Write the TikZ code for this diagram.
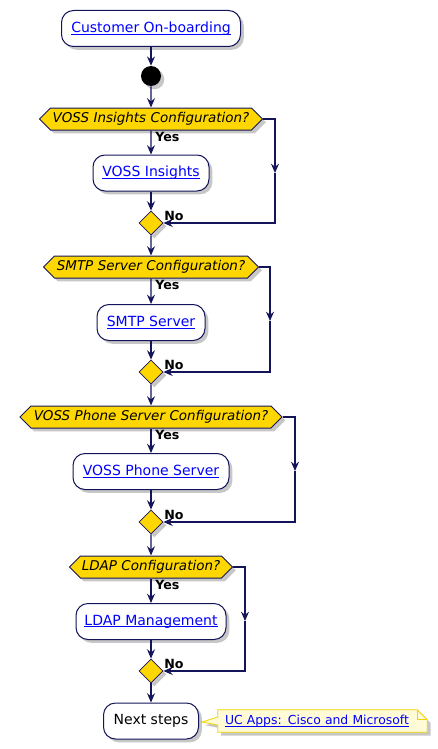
\documentclass[tikz,border=0pt]{standalone}
\usepackage{fontspec}
\setmainfont{DejaVu Sans}
\usetikzlibrary{shapes.geometric,shapes.symbols,shadows,arrows.meta,calc}
\definecolor{navy}{HTML}{14145A}
\definecolor{gold}{HTML}{FFD700}
\definecolor{linkblue}{HTML}{0000FF}
\definecolor{notefill}{HTML}{FEFBD6}
\definecolor{noteborder}{HTML}{F2D300}
\pgfdeclarelayer{bg}
\pgfsetlayers{bg,main}
\newcommand{\lnk}[1]{\textcolor{linkblue}{\setbox0\hbox{#1}\rlap{\rule[-1.5pt]{\wd0}{0.55pt}}\box0}}
\tikzset{
  shad/.style={drop shadow={shadow xshift=2.5pt,shadow yshift=-2.5pt,opacity=0.22,fill=black}},
  act/.style={draw=navy,line width=0.75pt,fill=white,rounded corners=9pt,minimum height=27pt,
    inner sep=0pt,font=\fontsize{10.5pt}{12pt}\selectfont,shad},
  dec/.style={signal,signal to=west and east,draw=navy,line width=0.75pt,fill=gold,
    font=\fontsize{10.1pt}{12pt}\selectfont\itshape,text height=7.8pt,text depth=2.2pt,
    inner ysep=3.25pt,inner xsep=0pt,align=center,shad},
  merge/.style={diamond,draw=navy,line width=0.6pt,fill=gold,minimum size=18pt,inner sep=0pt,shad},
  startdot/.style={circle,fill=black,minimum size=15pt,inner sep=0pt,shad},
  flow/.style={draw=navy,line width=0.8pt,-{Stealth[length=7pt,width=6pt,inset=2.4pt]}},
  lbl/.style={font=\fontsize{9.5pt}{11pt}\selectfont\bfseries,inner sep=0pt},
  notebox/.style={draw=noteborder,line width=0.6pt,fill=notefill,shad},
}
\begin{document}
\begin{tikzpicture}[x=0.75pt,y=-0.75pt]
\useasboundingbox (0,0) rectangle (437,749);
\node[act,minimum width=134.25pt] (cust) at (151,28.5) {\lnk{Customer On-boarding}};
\node[startdot] (start) at (151,76) {};

\node[dec,text width=150.75pt] (d1) at (151,119) {VOSS Insights Configuration?};
\node[act,minimum width=87pt] (a1) at (151,173) {\lnk{VOSS Insights}};
\node[merge] (m1) at (151,223) {};

\node[dec,text width=144.75pt] (d2) at (151,267) {SMTP Server Configuration?};
\node[act,minimum width=81pt] (a2) at (151,322.5) {\lnk{SMTP Server}};
\node[merge] (m2) at (151,372) {};

\node[dec,text width=180pt] (d3) at (151,417) {VOSS Phone Server Configuration?};
\node[act,minimum width=117pt] (a3) at (151,471.5) {\lnk{VOSS Phone Server}};
\node[merge] (m3) at (151,522) {};

\node[dec,text width=105.75pt] (d4) at (151,567) {LDAP Configuration?};
\node[act,minimum width=112.5pt] (a4) at (151,621.5) {\lnk{LDAP Management}};
\node[merge] (m4) at (151,671) {};

\node[act,minimum width=71.25pt] (next) at (151,721) {Next steps};

\node[text width=146.25pt,align=left,inner xsep=5.25pt,minimum height=16.5pt,inner ysep=0pt,
  font=\fontsize{9.3pt}{11pt}\selectfont] (note) at (322.5,721) {\lnk{UC Apps: Cisco and Microsoft}};
\begin{pgfonlayer}{bg}
\path[notebox] (note.north west) -- ($(note.north east)+(-10,0)$) -- ($(note.north east)+(0,10)$)
  -- (note.south east) -- (note.south west) -- ($(note.west)+(0,4)$) -- ($(next.east)+(3,1)$)
  -- ($(note.west)+(0,-4)$) -- cycle;
\draw[noteborder,line width=0.6pt] ($(note.north east)+(-10,0)$) |- ($(note.north east)+(0,10)$);
\end{pgfonlayer}

% main flow
\draw[flow] (cust) -- (start);
\draw[flow] (start) -- (d1);
\draw[flow] (d1) -- (a1);
\draw[flow] (a1) -- (m1);
\draw[flow] (m1) -- (d2);
\draw[flow] (d2) -- (a2);
\draw[flow] (a2) -- (m2);
\draw[flow] (m2) -- (d3);
\draw[flow] (d3) -- (a3);
\draw[flow] (a3) -- (m3);
\draw[flow] (m3) -- (d4);
\draw[flow] (d4) -- (a4);
\draw[flow] (a4) -- (m4);
\draw[flow] (m4) -- (next);

% no branches
\coordinate (r1) at (275,173);
\coordinate (r2) at (270,321);
\coordinate (r3) at (295,471);
\coordinate (r4) at (245,621);
\draw[flow] (d1.east) -| (r1);
\draw[flow] (r1) |- (m1.east);
\draw[flow] (d2.east) -| (r2);
\draw[flow] (r2) |- (m2.east);
\draw[flow] (d3.east) -| (r3);
\draw[flow] (r3) |- (m3.east);
\draw[flow] (d4.east) -| (r4);
\draw[flow] (r4) |- (m4.east);

% labels
\node[lbl,anchor=north west] (y1) at ($(d1.south)+(4,1)$) {Yes};
\node[lbl,anchor=north west] (y2) at ($(d2.south)+(4,1)$) {Yes};
\node[lbl,anchor=north west] (y3) at ($(d3.south)+(4,1)$) {Yes};
\node[lbl,anchor=north west] (y4) at ($(d4.south)+(4,1)$) {Yes};
\node[lbl,anchor=west] (n1) at ($(m1)+(13,-7)$) {No};
\node[lbl,anchor=west] (n2) at ($(m2)+(13,-7)$) {No};
\node[lbl,anchor=west] (n3) at ($(m3)+(13,-7)$) {No};
\node[lbl,anchor=west] (n4) at ($(m4)+(13,-7)$) {No};
\end{tikzpicture}
\end{document}
